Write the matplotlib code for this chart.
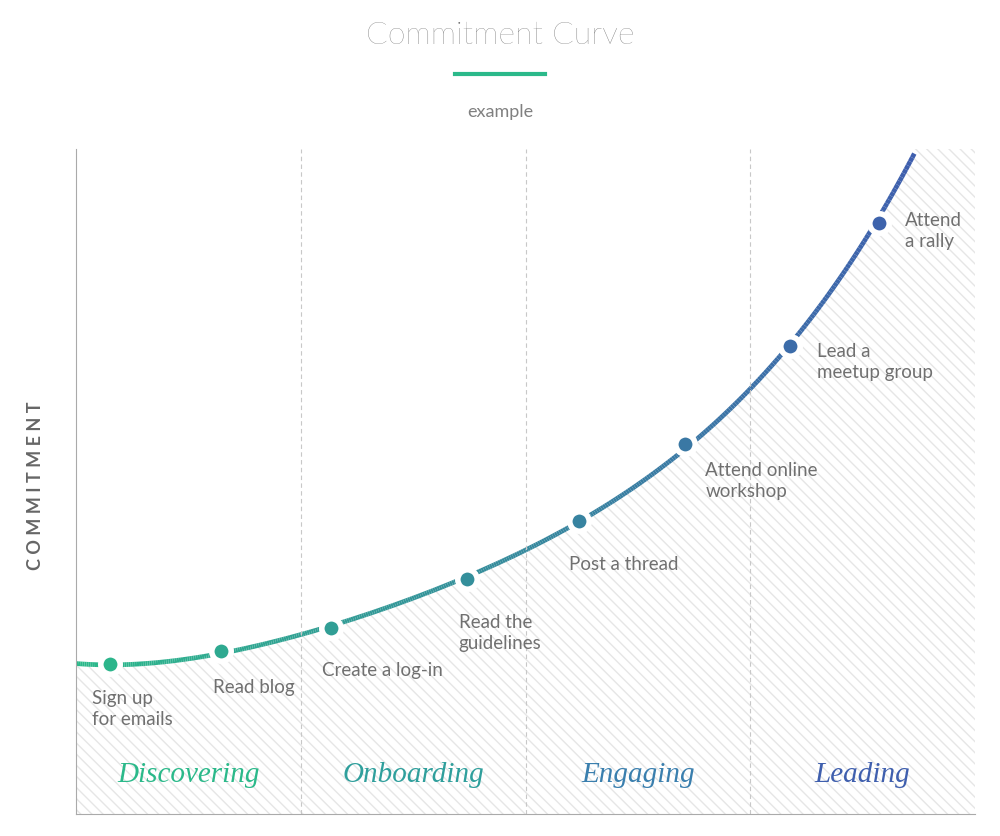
import numpy as np
import matplotlib.pyplot as plt
from matplotlib.collections import LineCollection
from matplotlib.colors import to_rgb

# stage index (x) and commitment level (y, 0-100)
stages = ["Discovering", "Onboarding", "Engaging", "Leading"]
stage_colors = ["#2bb98a", "#2f9f9c", "#3a7fae", "#3f5fae"]
actions = ["Sign up\nfor emails", "Read blog", "Create a log-in", "Read the\nguidelines",
           "Post a thread", "Attend online\nworkshop", "Lead a\nmeetup group", "Attend\na rally"]
act_x = [0.151, 0.644, 1.133, 1.738, 2.240, 2.711, 3.178, 3.573]
act_y = [22.6, 24.5, 28.0, 35.3, 44.1, 55.6, 70.4, 88.9]
# curve end points
curve_x = [0.0] + act_x + [3.73]
curve_y = [22.4] + act_y + [100.0]

label_off = [(-18, -25), (-8, -27), (-9, -33), (-8, -34), (-10, -34), (20, -17), (27, 4), (26, 12)]

plt.rcParams['font.family'] = ['Lato', 'DejaVu Sans']
fig = plt.figure(figsize=(10, 8.37), dpi=100)
ax = fig.add_axes([0.076, 0.0263, 0.899, 0.7945])
ax.set_xlim(0, 4)
ax.set_ylim(0, 100)

coef = np.polyfit(curve_x, curve_y, 4)
xs = np.linspace(0, 3.73, 400)
ys = np.polyval(coef, xs)

ax.fill_between(xs, 0, ys, facecolor='white', edgecolor='#e6e6e6', hatch='\\\\\\', linewidth=0)
ax.fill_between([3.73, 4], 0, 100, facecolor='white', edgecolor='#e6e6e6', hatch='\\\\\\', linewidth=0)

c0, c1 = np.array(to_rgb("#2bb98a")), np.array(to_rgb("#3f5fae"))
def grad(t):
    return c0 + (c1 - c0) * np.clip(t, 0, 1)

pts = np.column_stack([xs, ys]).reshape(-1, 1, 2)
segs = np.concatenate([pts[:-1], pts[1:]], axis=1)
lc = LineCollection(segs, colors=[grad(t) for t in xs[:-1] / 3.73], linewidths=3.4, capstyle='butt')
ax.add_collection(lc)

for i, (x, y) in enumerate(zip(act_x, act_y)):
    ax.plot(x, y, 'o', ms=14, color=grad(x / 3.73), mec='white', mew=4, zorder=5)
    ax.annotate(actions[i], (x, y), xytext=label_off[i], textcoords='offset pixels',
                ha='left', va='top', fontsize=13.5, color='#707070', linespacing=1.3)

for xv in [1, 2, 3]:
    ax.axvline(xv, color='#c8c8c8', ls=(0, (4, 3)), lw=0.8)

for i, s in enumerate(stages):
    ax.text(i + 0.5, 6, s, ha='center', va='center', fontsize=21, style='italic',
            family=['Liberation Serif'], color=stage_colors[i])

for sp in ['top', 'right']:
    ax.spines[sp].set_visible(False)
for sp in ['left', 'bottom']:
    ax.spines[sp].set_color('#aaaaaa')
ax.set_xticks([])
ax.set_yticks([])

fig.text(0.5, 0.958, "Commitment Curve", ha='center', va='center', fontsize=23,
         color='#666666', fontweight='light')
fig.add_artist(plt.Line2D([0.455, 0.545], [0.910, 0.910], color='#2bb98a', lw=3))
fig.text(0.5, 0.866, "example", ha='center', va='center', fontsize=13, color='#808080')
fig.text(0.036, 0.42, "C O M M I T M E N T", rotation=90, ha='center', va='center',
         fontsize=13, color='#666666', fontweight='bold')

fig.savefig("out.png", dpi=100)
